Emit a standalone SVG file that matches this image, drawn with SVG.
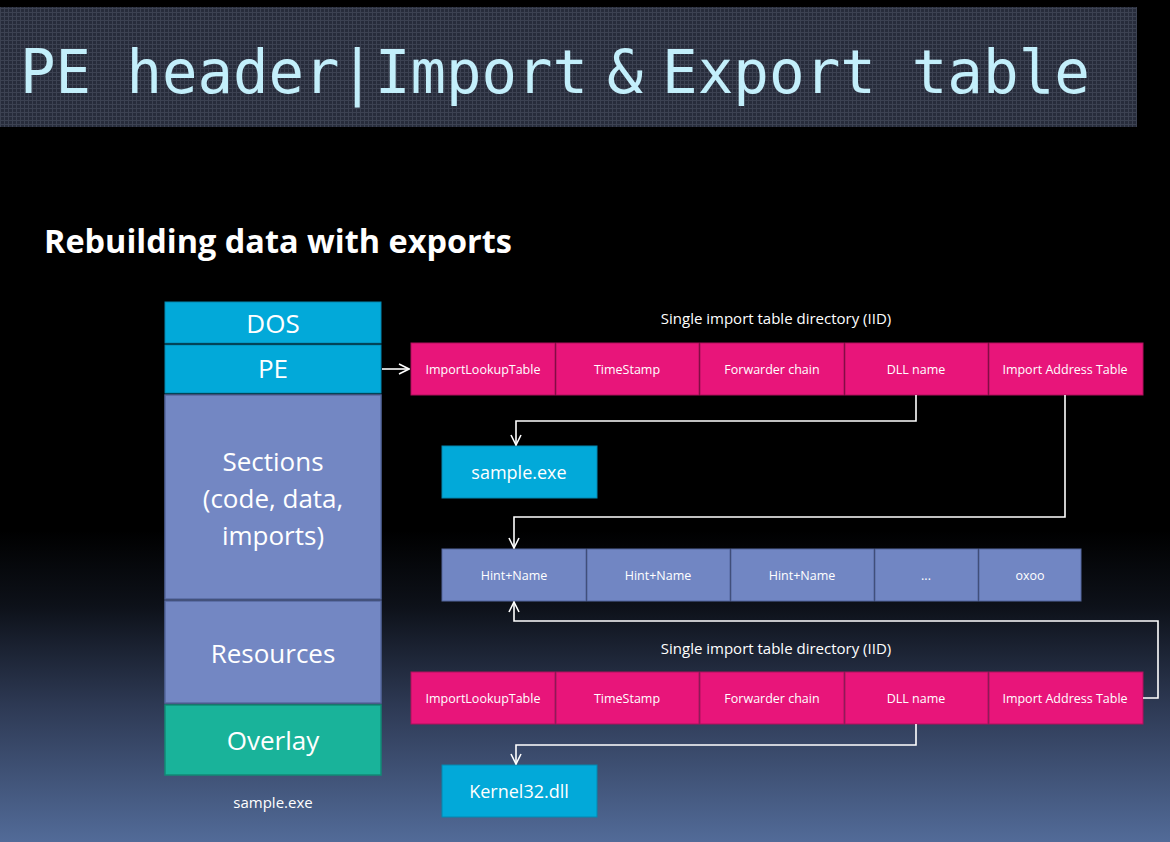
<svg xmlns="http://www.w3.org/2000/svg" width="1170" height="842" viewBox="0 0 1170 842">
<defs>
<linearGradient id="bg" x1="0" y1="0" x2="0" y2="1">
<stop offset="0" stop-color="#000"/>
<stop offset="0.63" stop-color="#000"/>
<stop offset="0.72" stop-color="#0d1119"/>
<stop offset="0.84" stop-color="#2e3a55"/>
<stop offset="1" stop-color="#526b98"/>
</linearGradient>
<pattern id="grid" width="4" height="4" patternUnits="userSpaceOnUse">
<rect width="4" height="4" fill="#272c3b"/>
<path d="M0 0.5H4M0.5 0V4" stroke="#3c4252" stroke-width="1"/>
</pattern>
<marker id="arr" viewBox="0 0 12 12" refX="11" refY="6" markerWidth="12" markerHeight="12" markerUnits="userSpaceOnUse" orient="auto">
<path d="M1 1L11 6L1 11" fill="none" stroke="#fff" stroke-width="1.6"/>
</marker>
<style>
.t{font-family:"Open Sans","Liberation Sans",sans-serif;fill:#fff;text-anchor:middle}
.cell{font-size:12.5px}
.big{font-size:26px}
.iid{fill:#e8157a;stroke:#b0105c;stroke-width:1}
.hn{fill:#7186c3;stroke:#55679e;stroke-width:1}
.cy{fill:#02a9d9;stroke:#0587b0;stroke-width:1}
.sec{fill:#7387c3;stroke:#56689f;stroke-width:1.5}
.ov{fill:#19b39a;stroke:#128a76;stroke-width:1.5}
.c{fill:none;stroke:#fff;stroke-width:1.6}
.ttl{font-family:'DejaVu Sans Mono','Liberation Mono',monospace;font-size:60px;fill:#c3effb}
</style>
</defs>
<rect width="1170" height="842" fill="url(#bg)"/>
<g id="title">
<rect x="0" y="7" width="1137" height="120" fill="url(#grid)"/>
<text class="ttl" y="93"><tspan x="20" textLength="568" lengthAdjust="spacingAndGlyphs">PE header|Import</tspan><tspan x="607">&amp;</tspan><tspan x="662" textLength="428" lengthAdjust="spacingAndGlyphs">Export table</tspan></text>
</g>
<text x="44" y="253" font-family="'Open Sans','Liberation Sans',sans-serif" font-weight="bold" font-size="32" fill="#fff" textLength="468" lengthAdjust="spacingAndGlyphs">Rebuilding data with exports</text>

<g id="stack">
<g id="dos"><rect class="cy" x="165" y="302" width="216" height="41"/><text class="t big" x="273" y="333">DOS</text></g>
<g id="pe"><rect class="cy" x="165" y="345" width="216" height="48"/><text class="t big" x="273" y="378">PE</text></g>
<g id="sections"><rect class="sec" x="165" y="395" width="216" height="204"/><text class="t big" x="273" y="471">Sections</text><text class="t big" x="273" y="508">(code, data,</text><text class="t big" x="273" y="545">imports)</text></g>
<g id="resources"><rect class="sec" x="165" y="601" width="216" height="102"/><text class="t big" x="273" y="663">Resources</text></g>
<g id="overlay"><rect class="ov" x="165" y="705" width="216" height="70"/><text class="t big" x="273" y="750">Overlay</text></g>
<text class="t" x="273" y="808" font-size="15">sample.exe</text>
</g>

<text class="t" x="776" y="324" font-size="15">Single import table directory (IID)</text>
<g id="iid1">
<rect class="iid" x="411" y="343" width="144" height="52"/><text class="t cell" x="483" y="374">ImportLookupTable</text>
<rect class="iid" x="556" y="343" width="143" height="52"/><text class="t cell" x="627" y="374">TimeStamp</text>
<rect class="iid" x="700" y="343" width="144" height="52"/><text class="t cell" x="772" y="374">Forwarder chain</text>
<rect class="iid" x="845" y="343" width="143" height="52"/><text class="t cell" x="916" y="374">DLL name</text>
<rect class="iid" x="989" y="343" width="154" height="52"/><text class="t cell" x="1065" y="374">Import Address Table</text>
</g>

<g id="sampleexe"><rect class="cy" x="442" y="446" width="155" height="52"/><text class="t" x="519" y="479" font-size="18">sample.exe</text></g>

<g id="hints">
<rect class="hn" x="442" y="549" width="144" height="52"/><text class="t cell" x="514" y="580">Hint+Name</text>
<rect class="hn" x="587" y="549" width="143" height="52"/><text class="t cell" x="658" y="580">Hint+Name</text>
<rect class="hn" x="731" y="549" width="143" height="52"/><text class="t cell" x="802" y="580">Hint+Name</text>
<rect class="hn" x="875" y="549" width="103" height="52"/><text class="t cell" x="926" y="580">...</text>
<rect class="hn" x="979" y="549" width="102" height="52"/><text class="t cell" x="1030" y="580">oxoo</text>
</g>

<text class="t" x="776" y="654" font-size="15">Single import table directory (IID)</text>
<g id="iid2">
<rect class="iid" x="411" y="672" width="144" height="52"/><text class="t cell" x="483" y="703">ImportLookupTable</text>
<rect class="iid" x="556" y="672" width="143" height="52"/><text class="t cell" x="627" y="703">TimeStamp</text>
<rect class="iid" x="700" y="672" width="144" height="52"/><text class="t cell" x="772" y="703">Forwarder chain</text>
<rect class="iid" x="845" y="672" width="143" height="52"/><text class="t cell" x="916" y="703">DLL name</text>
<rect class="iid" x="989" y="672" width="154" height="52"/><text class="t cell" x="1065" y="703">Import Address Table</text>
</g>

<g id="kernel32"><rect class="cy" x="442" y="765" width="155" height="52"/><text class="t" x="519" y="798" font-size="18">Kernel32.dll</text></g>

<g id="connectors">
<path class="c" d="M382 369H409" marker-end="url(#arr)"/>
<path class="c" d="M916 395V421H516V445" marker-end="url(#arr)"/>
<path class="c" d="M1065 395V517H514V548" marker-end="url(#arr)"/>
<path class="c" d="M1143 698H1158V621H514V602" marker-end="url(#arr)"/>
<path class="c" d="M916 724V745H516V764" marker-end="url(#arr)"/>
</g>
</svg>
